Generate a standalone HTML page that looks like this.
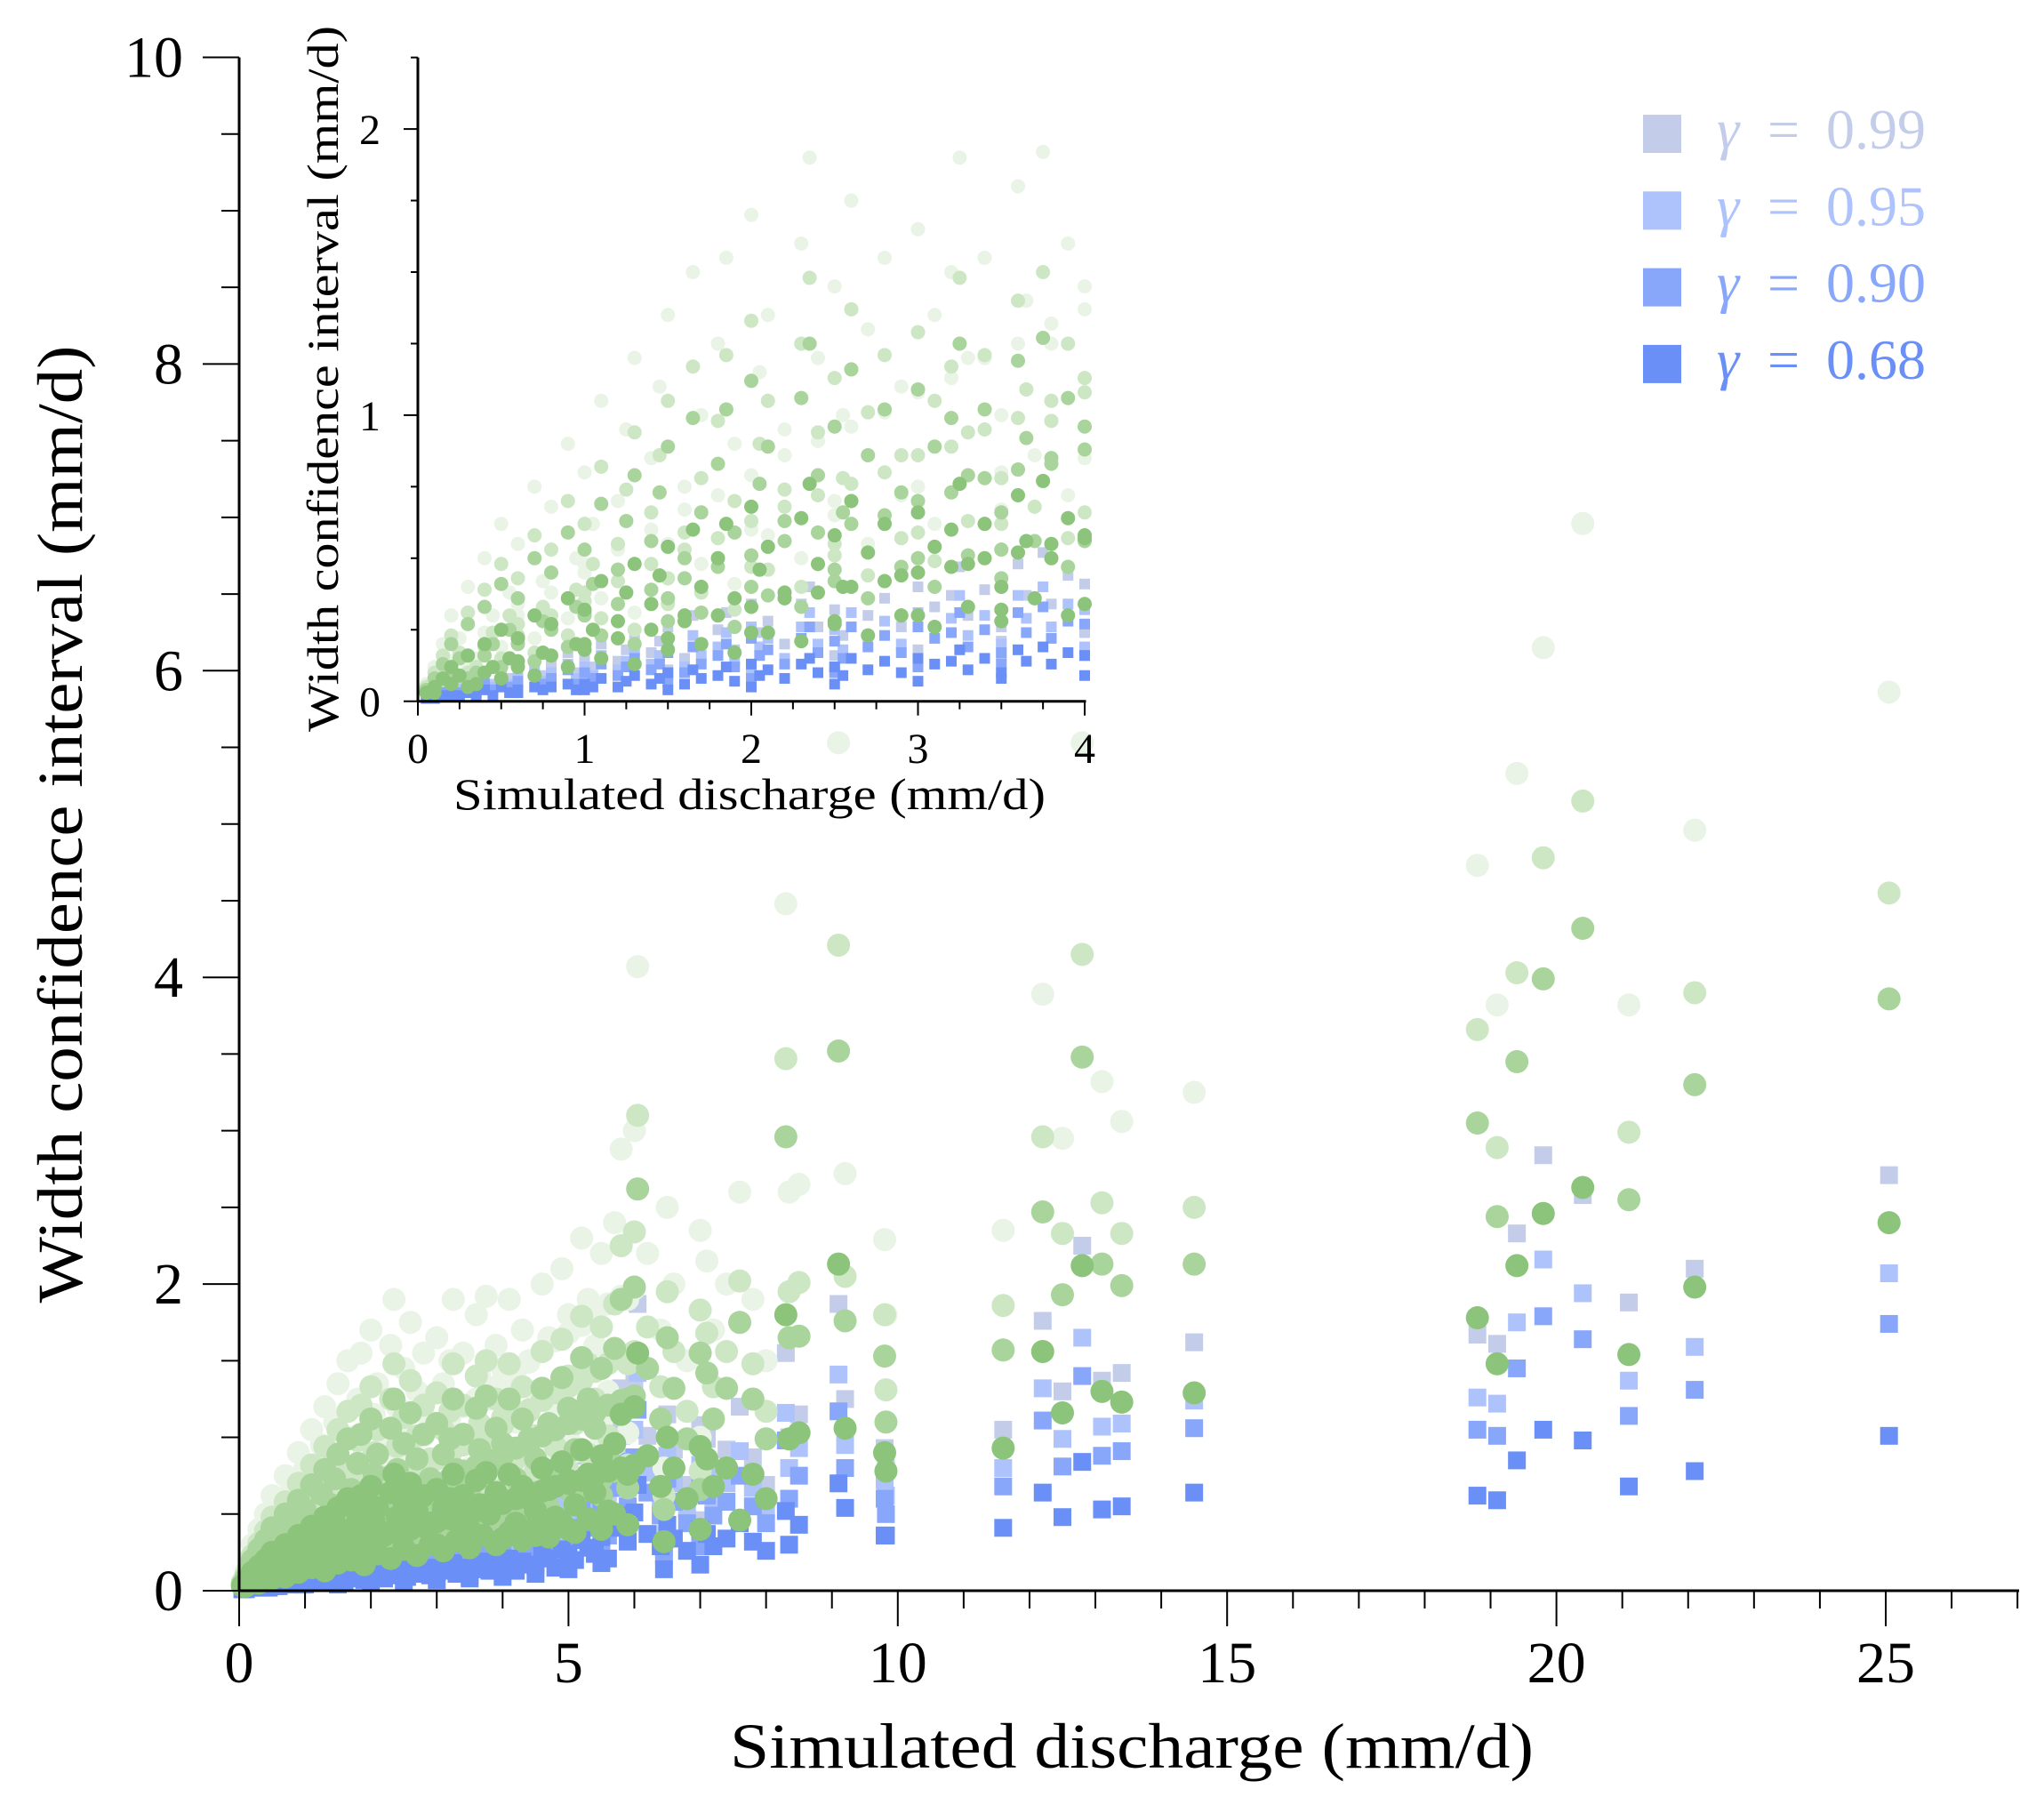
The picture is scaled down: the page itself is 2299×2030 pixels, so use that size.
<!DOCTYPE html>
<html><head><meta charset="utf-8">
<style>
html,body{margin:0;padding:0;background:#fff;}
svg{display:block;font-family:"Liberation Serif",serif;}
</style></head>
<body>
<svg id="chart" width="2299" height="2030" viewBox="0 0 2299 2030" xmlns="http://www.w3.org/2000/svg">
<g id="main-marks"></g>
<g id="main-axes" stroke="#000" fill="none"></g>
<g id="inset-marks"></g>
<g id="inset-axes" stroke="#000" fill="none"></g>
<text x="1273" y="1988" font-size="72" text-anchor="middle" textLength="904" lengthAdjust="spacingAndGlyphs">Simulated discharge (mm/d)</text>
<text transform="translate(92,927) rotate(-90)" font-size="72" text-anchor="middle" textLength="1077" lengthAdjust="spacingAndGlyphs">Width confidence interval (mm/d)</text>
<text x="843" y="910" font-size="50" text-anchor="middle" textLength="666" lengthAdjust="spacingAndGlyphs">Simulated discharge (mm/d)</text>
<text transform="translate(380,426) rotate(-90)" font-size="50" text-anchor="middle" textLength="794" lengthAdjust="spacingAndGlyphs">Width confidence interval (mm/d)</text>
<g id="legend"></g>
</svg>
<script>
const discharge=[0.05,0.1,0.15,0.2,0.25,0.3,0.35,0.4,0.45,0.5,0.55,0.6,0.6,0.7,0.75,0.8,0.9,0.95,1.0,1.0,1.05,1.1,1.2,1.25,1.3,1.4,1.45,1.5,1.5,1.6,1.65,1.7,1.8,1.85,1.9,2.0,2.0,2.05,2.1,2.2,2.3,2.35,2.4,2.5,2.5,2.55,2.6,2.7,2.8,2.9,3.0,3.0,3.1,3.2,3.25,3.3,3.4,3.5,3.5,3.6,3.65,3.75,3.8,3.9,4.0,4.0,4.1,4.2,4.3,4.4,4.5,4.5,4.6,4.7,4.8,4.9,5.0,5.0,5.1,5.2,5.3,5.4,5.5,5.5,5.6,5.7,5.8,5.9,6.0,6.05,6.2,6.4,6.45,6.5,6.6,6.8,7.0,7.0,7.1,7.2,7.4,7.6,7.8,8.0,8.3,8.35,8.5,9.1,9.2,9.8,9.82,11.6,12.2,12.5,12.8,13.1,13.4,14.5,18.8,19.1,19.4,19.8,20.4,21.1,22.1,25.05];
const green99=[.06,.12,.20,.30,.22,.40,.15,.50,.30,.62,.38,.55,.30,.75,.42,.68,.90,.50,.80,.45,.62,1.05,.70,.95,1.20,.85,1.10,1.35,.55,.75,1.50,1.00,1.25,1.55,.90,1.70,.60,1.15,1.35,.95,1.60,1.90,1.20,1.45,.70,1.00,1.75,1.30,1.55,1.10,1.65,.75,1.35,1.50,1.90,1.20,1.55,1.00,.80,1.80,1.40,1.92,1.25,1.60,1.45,.85,1.90,1.10,1.70,1.50,1.30,.90,2.00,1.65,1.20,2.10,1.80,1.00,1.40,2.30,1.90,1.60,2.20,1.10,1.30,2.40,2.88,1.90,3.00,4.07,2.20,1.70,.80,2.50,2.00,1.50,2.35,1.00,2.15,1.70,2.00,2.60,1.90,1.50,4.48,2.60,2.65,5.53,2.72,2.29,1.80,2.35,3.89,2.95,5.53,3.32,3.06,3.25,4.73,3.82,5.33,6.15,6.96,3.82,4.96,5.86];
const green95=[.05,.10,.16,.23,.17,.31,.12,.39,.24,.48,.30,.43,.23,.58,.33,.53,.70,.39,.62,.35,.48,.82,.55,.74,.94,.66,.86,1.05,.43,.59,1.17,.78,.98,1.21,.70,1.33,.47,.90,1.05,.74,1.25,1.48,.94,1.13,.55,.78,1.37,1.01,1.21,.86,1.29,.59,1.05,1.17,1.48,.94,1.21,.78,.62,1.40,1.09,1.50,.98,1.25,1.13,.66,1.48,.86,1.33,1.17,1.01,.70,1.56,1.29,.94,1.64,1.40,.78,1.09,1.79,1.48,1.25,1.72,.86,1.01,1.87,2.25,1.48,2.34,3.10,1.72,1.33,.62,1.95,1.56,1.17,1.83,.78,1.68,1.33,1.56,2.02,1.48,1.17,3.47,1.95,2.01,4.21,2.05,1.80,1.31,1.86,2.96,2.33,4.15,2.53,2.33,2.50,3.66,2.89,4.03,4.78,5.15,2.99,3.90,4.55];
const green90=[.04,.08,.13,.20,.15,.27,.10,.33,.20,.41,.25,.36,.20,.50,.28,.45,.59,.33,.53,.30,.41,.69,.46,.63,.79,.56,.73,.89,.36,.50,.99,.66,.83,1.02,.59,1.12,.40,.76,.89,.63,1.06,1.25,.79,.96,.46,.66,1.16,.86,1.02,.73,1.09,.50,.89,.99,1.25,.79,1.02,.66,.53,1.19,.92,1.27,.83,1.06,.96,.56,1.25,.73,1.12,.99,.86,.59,1.32,1.09,.79,1.39,1.19,.66,.92,1.52,1.25,1.06,1.45,.73,.86,1.58,1.90,1.25,1.98,2.62,1.45,1.12,.53,1.65,1.32,.99,1.55,.66,1.42,1.12,1.32,1.75,1.25,.99,2.96,1.65,1.66,3.52,1.76,1.53,1.10,1.57,2.47,1.93,3.48,2.13,1.99,2.13,3.05,2.44,3.45,3.99,4.32,2.55,3.30,3.86];
const green68=[.03,.05,.08,.12,.09,.16,.06,.20,.12,.25,.15,.22,.12,.30,.17,.27,.36,.20,.32,.18,.25,.42,.28,.38,.48,.34,.44,.54,.22,.30,.60,.40,.50,.62,.36,.68,.24,.46,.54,.38,.64,.76,.48,.58,.28,.40,.70,.52,.62,.44,.66,.30,.54,.60,.76,.48,.62,.40,.32,.72,.56,.77,.50,.64,.58,.34,.76,.44,.68,.60,.52,.36,.80,.66,.48,.84,.72,.40,.56,.92,.76,.64,.88,.44,.52,.96,1.15,.76,1.20,1.55,.88,.68,.32,1.00,.80,.60,.94,.40,.86,.68,.80,.46,.76,.60,1.80,.99,1.03,2.13,1.06,.90,.78,.93,1.56,1.16,2.12,1.30,1.23,1.29,1.78,1.48,2.12,2.46,2.63,1.54,1.98,2.40];
const blue99=[.02,.03,.04,.06,.05,.08,.04,.10,.06,.12,.08,.11,.07,.14,.09,.13,.17,.10,.15,.09,.12,.20,.14,.18,.23,.17,.21,.26,.11,.15,.30,.20,.25,.31,.18,.34,.13,.24,.28,.20,.34,.40,.26,.32,.16,.23,.40,.30,.36,.26,.40,.18,.33,.37,.47,.30,.39,.26,.21,.48,.37,.52,.34,.44,.41,.24,.55,.33,.51,.46,.41,.28,.64,.55,.40,.72,.64,.36,.52,.88,.75,.64,.92,.47,.56,1.05,1.32,.87,1.38,1.87,1.01,.78,.37,1.15,.92,.69,1.08,.46,.99,.78,.92,1.20,.87,.69,1.55,1.00,1.15,1.87,1.25,.93,.80,1.05,1.76,1.30,2.25,1.37,1.42,1.62,1.67,1.61,2.33,2.84,2.58,1.88,2.10,2.71];
const blue95=[.01,.02,.03,.05,.04,.06,.03,.08,.05,.09,.06,.08,.05,.11,.07,.10,.13,.08,.12,.07,.09,.16,.11,.14,.18,.13,.16,.20,.09,.12,.23,.16,.19,.24,.14,.26,.10,.19,.22,.15,.26,.31,.20,.25,.12,.18,.31,.23,.28,.20,.31,.14,.26,.29,.37,.23,.30,.20,.16,.37,.29,.40,.26,.34,.32,.19,.42,.26,.39,.35,.32,.22,.49,.42,.31,.55,.49,.28,.40,.68,.58,.50,.71,.36,.44,.81,1.01,.67,1.05,1.42,.77,.60,.28,.88,.70,.53,.82,.35,.75,.60,.70,.91,.67,.53,1.16,.80,.93,1.41,.95,.72,.62,.80,1.32,.99,1.65,1.07,1.09,1.24,1.26,1.22,1.75,2.16,1.94,1.37,1.59,2.07];
const blue90=[.01,.02,.03,.04,.03,.05,.03,.06,.04,.08,.05,.07,.04,.09,.06,.08,.11,.06,.10,.06,.08,.13,.09,.12,.15,.11,.13,.17,.07,.10,.19,.13,.16,.20,.12,.22,.08,.16,.18,.13,.22,.26,.17,.21,.10,.15,.26,.19,.23,.17,.26,.12,.22,.24,.31,.19,.25,.17,.13,.31,.24,.33,.22,.28,.27,.16,.35,.21,.33,.29,.27,.18,.41,.35,.26,.46,.41,.23,.34,.56,.48,.41,.59,.30,.36,.67,.84,.55,.87,1.18,.64,.49,.23,.73,.58,.44,.68,.29,.62,.49,.58,.75,.55,.44,.98,.60,.75,1.17,.80,.60,.50,.68,1.11,.81,1.40,.88,.91,1.06,1.05,1.01,1.45,1.79,1.64,1.14,1.31,1.74];
const blue68=[.01,.01,.02,.02,.02,.03,.02,.04,.02,.05,.03,.04,.03,.05,.04,.05,.06,.04,.06,.04,.05,.08,.05,.07,.09,.06,.08,.10,.04,.06,.11,.08,.09,.12,.07,.13,.05,.09,.11,.08,.13,.15,.10,.12,.06,.09,.15,.11,.14,.10,.15,.07,.13,.14,.18,.11,.15,.10,.08,.18,.14,.19,.13,.17,.16,.09,.21,.13,.19,.17,.16,.11,.24,.21,.15,.27,.24,.14,.20,.33,.28,.24,.35,.18,.21,.41,.49,.32,.51,.69,.37,.29,.14,.43,.34,.26,.40,.17,.37,.29,.34,.44,.32,.26,.52,.30,.43,.70,.54,.36,.36,.41,.64,.48,.84,.53,.55,.64,.62,.59,.85,1.05,.98,.68,.78,1.01];
const cloudX=[0.1,0.2,0.3,0.4,0.5,0.6,0.7,0.8,0.9,1.0,1.1,1.2,1.3,1.4,1.5,1.6,1.7,1.8,1.9,2.0,2.1,2.2,2.3,2.4,2.5,2.6,2.7,2.8,2.9,3.0,3.1,3.2,3.3,3.4,3.5,3.6,3.7,3.8,3.9,4.0,4.1,4.2,4.3,4.4,4.5,4.6,4.7,4.8,4.9,5.0,5.1,5.2,5.3,5.4,5.5,5.6,5.7,5.8,5.9,6.0];
const cloudG99=[.07,.14,.12,.24,.19,.34,.22,.38,.29,.48,.36,.53,.31,.60,.43,.67,.48,.72,.41,.79,.58,.86,.50,.91,.65,.96,.55,1.01,.72,1.08,.62,1.13,.79,1.20,.67,1.25,.86,1.32,.72,1.37,.91,1.44,.79,1.49,.98,1.56,.84,1.63,1.06,1.68,.91,1.73,1.13,1.80,.96,1.87,1.20,1.92,1.03,1.97];
const cloudG95=[.06,.11,.10,.19,.15,.27,.17,.30,.23,.38,.29,.42,.25,.48,.34,.53,.38,.57,.32,.63,.46,.68,.40,.72,.51,.76,.44,.80,.57,.86,.49,.89,.63,.95,.53,.99,.68,1.05,.57,1.08,.72,1.14,.63,1.18,.78,1.24,.67,1.29,.84,1.33,.72,1.37,.89,1.43,.76,1.48,.95,1.52,.82,1.56];
const cloudG90=[.05,.09,.08,.16,.12,.22,.14,.25,.19,.31,.23,.34,.20,.39,.28,.43,.31,.47,.26,.51,.37,.56,.33,.59,.42,.62,.36,.65,.47,.70,.40,.73,.51,.78,.43,.81,.56,.85,.47,.88,.59,.93,.51,.96,.64,1.01,.54,1.05,.68,1.09,.59,1.12,.73,1.16,.62,1.21,.78,1.24,.67,1.27];
const cloudG68=[.03,.06,.05,.10,.08,.14,.09,.16,.12,.20,.15,.22,.13,.25,.18,.28,.20,.30,.17,.33,.24,.36,.21,.38,.27,.40,.23,.42,.30,.45,.26,.47,.33,.50,.28,.52,.36,.55,.30,.57,.38,.60,.33,.62,.41,.65,.35,.68,.44,.70,.38,.72,.47,.75,.40,.78,.50,.80,.43,.82];
const xTicksMain=[0,5,10,15,20,25];
const yTicksMain=[0,2,4,6,8,10];
const xTicksInset=[0,1,2,3,4];
const yTicksInset=[0,1,2];
const legendLabels=["0.99","0.95","0.90","0.68"];

const NS="http://www.w3.org/2000/svg";
const greenColors=["#e9f4e6","#cde7c5","#a9d59d","#8bc47a"];
const blueColors=["#c3cdea","#aec3fc","#88a7fb","#6a8ff6"];
const greenSeries=[green99,green95,green90,green68];
const cloudSeries=[cloudG99,cloudG95,cloudG90,cloudG68];
const blueSeries=[blue99,blue95,blue90,blue68];
const levelNames=["99","95","90","68"];

function mk(tag,attrs,parent){const e=document.createElementNS(NS,tag);for(const k in attrs)e.setAttribute(k,attrs[k]);parent.appendChild(e);return e;}

const mx=v=>269+v*74.08;
const my=v=>1789-v*172.45;
const ix=v=>470+v*187.5;
const iy=v=>788.7-v*321.8;

function drawMarks(g,sx,sy,r,sq,xmax,ymax){
  for(let s=0;s<4;s++){
    const ser=blueSeries[s];
    for(let i=0;i<discharge.length;i++){
      if(discharge[i]>xmax||ser[i]>ymax)continue;
      const e=mk('rect',{x:sx(discharge[i])-sq/2,y:sy(ser[i])-sq/2,width:sq,height:sq,fill:blueColors[s]},g);
      
      
    }
  }
  for(let s=0;s<4;s++){
    const ser=greenSeries[s];
    for(let i=0;i<discharge.length;i++){
      if(discharge[i]>xmax||ser[i]>ymax)continue;
      const e=mk('circle',{cx:sx(discharge[i]),cy:sy(ser[i]),r:r,fill:greenColors[s]},g);
      
      
    }
    const cs=cloudSeries[s];
    for(let i=0;i<cloudX.length;i++){
      if(cloudX[i]>xmax||cs[i]>ymax)continue;
      const e=mk('circle',{cx:sx(cloudX[i]),cy:sy(cs[i]),r:r,fill:greenColors[s]},g);
      
      
    }
  }
}
drawMarks(document.getElementById('main-marks'),mx,my,13,20,27,10);
drawMarks(document.getElementById('inset-marks'),ix,iy,8,12,4.02,2.25);

const ma=document.getElementById('main-axes');
let l=mk('line',{x1:269,y1:my(10),x2:269,y2:1789,'stroke-width':3},ma);


l=mk('line',{x1:269,y1:1789,x2:2271,y2:1789,'stroke-width':3},ma);


for(let v=0;v<=27;v++){
  const maj=v%5===0;
  mk('line',{x1:mx(v),y1:1789,x2:mx(v),y2:1789+(maj?40:20),'stroke-width':2},ma);
}
for(let k=0;k<=20;k++){
  const v=k*0.5;const maj=k%4===0;
  mk('line',{x1:269-(maj?41:20),y1:my(v),x2:269,y2:my(v),'stroke-width':2},ma);
}
xTicksMain.forEach(v=>{
  const t=mk('text',{x:mx(v),y:1892,'font-size':66,'text-anchor':'middle',fill:'#000',stroke:'none'},ma);
  t.textContent=v;
  
  
});
yTicksMain.forEach(v=>{
  const t=mk('text',{x:206,y:my(v)+22,'font-size':66,'text-anchor':'end',fill:'#000',stroke:'none'},ma);
  t.textContent=v;
  
  
});

const ia=document.getElementById('inset-axes');
l=mk('line',{x1:470,y1:iy(2.25),x2:470,y2:788.7,'stroke-width':3},ia);


l=mk('line',{x1:470,y1:788.7,x2:ix(4)+1.5,y2:788.7,'stroke-width':3},ia);


for(let k=0;k<=16;k++){
  const v=k*0.25;const maj=k%4===0;
  mk('line',{x1:ix(v),y1:788.7,x2:ix(v),y2:788.7+(maj?16:9),'stroke-width':2},ia);
}
for(let k=0;k<=9;k++){
  const v=k*0.25;const maj=k%4===0;
  mk('line',{x1:470-(maj?16:8),y1:iy(v),x2:470,y2:iy(v),'stroke-width':2},ia);
}
xTicksInset.forEach(v=>{
  const t=mk('text',{x:ix(v),y:858,'font-size':48,'text-anchor':'middle',fill:'#000',stroke:'none'},ia);
  t.textContent=v;
  
  
});
yTicksInset.forEach(v=>{
  const t=mk('text',{x:428,y:iy(v)+17,'font-size':48,'text-anchor':'end',fill:'#000',stroke:'none'},ia);
  t.textContent=v;
  
  
});

const lg=document.getElementById('legend');
legendLabels.forEach((lab,i)=>{
  const y0=129+i*86.3;
  const r=mk('rect',{x:1848,y:y0,width:43,height:43,fill:blueColors[i]},lg);
  
  
  const t=mk('text',{x:1931,y:y0+38,'font-size':64,fill:blueColors[i]},lg);
  
  
  const g=mk('tspan',{'font-style':'italic'},t);g.textContent='γ';
  const eq=mk('tspan',{x:1988},t);eq.textContent='=';
  const n=mk('tspan',{x:2054},t);n.textContent=lab;
});
</script>
</body></html>
